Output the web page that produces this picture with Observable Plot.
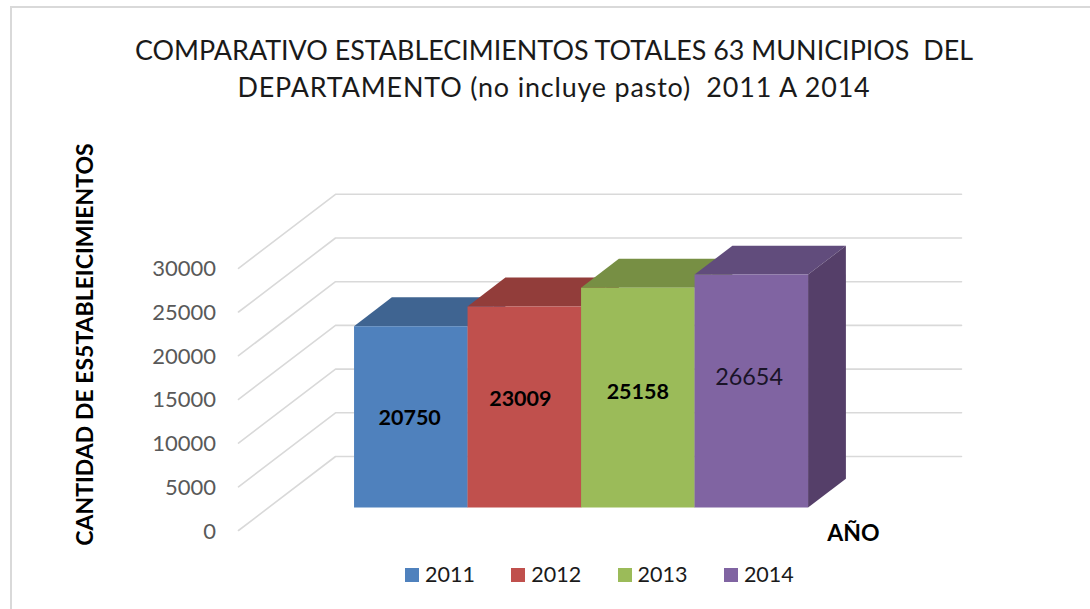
<!DOCTYPE html>
<html><head><meta charset="utf-8">
<script src="https://cdn.jsdelivr.net/npm/d3@7"></script>
<script src="https://cdn.jsdelivr.net/npm/@observablehq/plot@0.6"></script>
<style>
html,body{margin:0;padding:0;background:#fff;overflow:hidden}
#frame{position:relative;width:1090px;height:609px;box-sizing:border-box;overflow:hidden}
#border{position:absolute;left:10px;top:6px;width:1100px;height:640px;border:2px solid #d9d9d9;box-sizing:border-box}
#title{position:relative;height:130px;box-sizing:border-box;padding-top:31px;text-align:center;font:26.9px/37px Lato,sans-serif;color:#1a1a1a;white-space:pre;margin-left:18px}
#title .l2{letter-spacing:.84px}
#chart{position:relative;height:425px}
#chart svg{display:block;background:transparent;overflow:visible}
#legend{position:relative;height:54px}
.item{position:absolute;top:13px;height:14px;font:21.5px/12px "Lato",sans-serif;color:#1a1a1a}
.item i{position:absolute;left:0;top:0;width:14px;height:14px}
.item span{position:absolute;left:20px;top:0}
</style></head><body>
<div id="frame">
<div id="border"></div>
<div id="title">COMPARATIVO ESTABLECIMIENTOS TOTALES 63 MUNICIPIOS  DEL
<span class="l2">DEPARTAMENTO (no incluye pasto)  2011 A 2014</span></div>
<div id="chart"></div>
<div id="legend"></div>
</div>
<script>
const years = ["2011","2012","2013","2014"];
const values = [20750,23009,25158,26654];
const frontColors = ["#4F81BD","#C0504D","#9BBB59","#8064A2"];
const topColors = ["#3F6491","#923D3A","#778F44","#614C7C"];
const sideColors = ["#3A5A82","#843835","#6C813E","#553F69"];
const ticks = [0,5000,10000,15000,20000,25000,30000];
// heights (in value units of the front plane) at which each label sits, as read
const labelHeights = [10180,12360,13160,14880];
const labelShift = [-0.01,-0.035,0,-0.02];

// oblique projection: c = position along the categories, v = value, t = depth 0..1
const cMax = 5.515, depthC = 97/113.5, depthV = 74/0.00874;
const X = (c,t) => c + depthC*t;
const Y = (v,t) => v + depthV*t;
const barT0 = 0.31, barT1 = 0.70, gapC = 0.753;

const wall = ticks.flatMap(v => [
  {k:v,x:X(0,0),y:Y(v,0)},
  {k:v,x:X(0,1),y:Y(v,1)},
  {k:v,x:X(cMax,1),y:Y(v,1)}
]);

const faces = [];
values.forEach((v,i)=>{
  const a = gapC+i, b = a+1;
  const poly = (key,color,pts)=>pts.forEach(([c,val,t])=>faces.push({key:key+i,color,x:X(c,t),y:Y(val,t)}));
  poly("top",topColors[i],[[a,v,barT0],[b,v,barT0],[b,v,barT1],[a,v,barT1]]);
  poly("side",sideColors[i],[[b,0,barT0],[b,v,barT0],[b,v,barT1],[b,0,barT1]]);
  poly("front",frontColors[i],[[a,0,barT0],[b,0,barT0],[b,v,barT0],[a,v,barT0]]);
});

const labels = values.map((v,i)=>({
  text:String(v),
  x:X(gapC+i+0.5+labelShift[i],barT0),
  y:Y(labelHeights[i],barT0),
  bold:i<3
}));

const svgTop = 130;
const chart = Plot.plot({
  width:1090,height:425,
  marginLeft:238,marginRight:129,marginTop:3,marginBottom:0,
  x:{axis:null,domain:[0,cMax+depthC],range:[238,961]},
  y:{domain:[0,30000+depthV],range:[530-svgTop,530-svgTop-0.00874*(30000+depthV)]},
  color:{type:"identity"},
  style:{background:"transparent",overflow:"visible"},
  marks:[
    Plot.line(wall,{x:"x",y:"y",z:"k",stroke:"#d9d9d9",strokeWidth:1.6}),
    Plot.line(faces,{x:"x",y:"y",z:"key",fill:"color",stroke:"none"}),
    Plot.axisY({ticks,tickSize:0,tickPadding:22.5,label:null,anchor:"left",dy:1,
      fill:"#595959",fontSize:22,fontFamily:"Lato, sans-serif",tickFormat:d=>String(d)}),
    Plot.text(labels.filter(d=>d.bold),{x:"x",y:"y",text:"text",fill:"#000",fontSize:21.5,fontWeight:"bold",fontFamily:"Lato, sans-serif"}),
    Plot.text(labels.filter(d=>!d.bold),{x:"x",y:"y",text:"text",fill:"#1a1428",fontSize:23.4,fontFamily:"Lato, sans-serif"}),
    Plot.text(["CANTIDAD DE ES5TABLEICIMIENTOS"],{frameAnchor:"left",textAnchor:"middle",dx:-153,rotate:-90,fill:"#000",fontSize:23,fontWeight:"bold",fontFamily:"Lato, sans-serif"}),
    Plot.text(["AÑO"],{frameAnchor:"bottom-right",dx:-108,dy:-15,textAnchor:"middle",fill:"#000",fontSize:23,fontWeight:"bold",fontFamily:"Lato, sans-serif"})
  ]
});
document.getElementById("chart").append(chart);

const legend = document.getElementById("legend");
years.forEach((y,i)=>{
  const it = document.createElement("div");
  it.className="item";
  it.style.left=(405+106.3*i)+"px";
  const sw=document.createElement("i");sw.style.background=frontColors[i];
  const t=document.createElement("span");t.textContent=y;
  it.append(sw,t);legend.append(it);
});
</script>
</body></html>
